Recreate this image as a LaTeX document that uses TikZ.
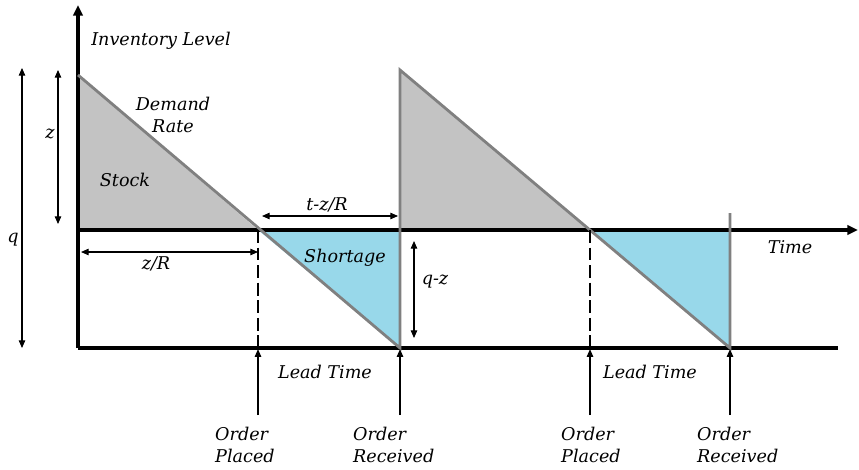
\documentclass[tikz,border=0pt]{standalone}
\usepackage{fontspec}
\setmainfont{DejaVu Serif}
\usetikzlibrary{arrows.meta, positioning}

\definecolor{stockgray}{RGB}{195,195,195}
\definecolor{shortblue}{RGB}{152,216,234}
\definecolor{sawgray}{RGB}{128,128,128}

\begin{document}
\begin{tikzpicture}[
    x=0.03cm, y=-0.03cm,
    font=\itshape\fontsize{15}{18.8}\selectfont,
    axis/.style={line width=2.6pt, draw=black},
    axisarrow/.style={axis, -{Triangle[length=9pt, width=8pt]}},
    saw/.style={line width=2.4pt, draw=sawgray},
    lead/.style={line width=0.9pt, dash pattern=on 11pt off 4pt},
    dim/.style={line width=0.9pt, {Triangle[length=6.5pt, width=5.5pt]}-{Triangle[length=6.5pt, width=5.5pt]}},
    uparrow/.style={line width=0.9pt, -{Triangle[length=6.5pt, width=5.5pt]}},
    lbl/.style={inner sep=0pt, anchor=base}
]
\useasboundingbox (0,0) rectangle (859,469);

% Key points of the inventory cycle
\coordinate (ybase) at (78,348);
\coordinate (ytip) at (78,5);
\coordinate (zero1) at (78,230);
\coordinate (xtip) at (858,230);
\coordinate (bend) at (838,348);
\coordinate (top1) at (78,75);
\coordinate (cross1) at (258,230);
\coordinate (low1) at (400,348);
\coordinate (zero2) at (400,230);
\coordinate (top2) at (400,70);
\coordinate (cross2) at (590,230);
\coordinate (low2) at (730,348);
\coordinate (zero3) at (730,230);
\coordinate (top3) at (730,213);
\coordinate (foot1) at (258,348);
\coordinate (foot2) at (590,348);

% Stock and shortage areas
\fill[stockgray] (top1) -- (cross1) -- (zero1) -- cycle;
\fill[stockgray] (top2) -- (cross2) -- (zero2) -- cycle;
\fill[shortblue] (cross1) -- (zero2) -- (low1) -- cycle;
\fill[shortblue] (cross2) -- (zero3) -- (low2) -- cycle;

% Axes
\draw[axisarrow] (ybase) -- (ytip);
\draw[axisarrow] (zero1) -- (xtip);
\draw[axis] (ybase) -- (bend);

% Saw-tooth demand line
\draw[saw] (top1) -- (low1) -- (top2) -- (low2) -- (top3);

% Lead time marks
\draw[lead] (cross1) -- (foot1);
\draw[lead] (cross2) -- (foot2);

% Dimensions
\coordinate (qtop) at (22,68);
\coordinate (qbot) at (22,348);
\coordinate (ztop) at (58,70);
\coordinate (zbot) at (58,224);
\coordinate (zrL) at (81,252);
\coordinate (zrR) at (258,252);
\coordinate (tzL) at (262,216);
\coordinate (tzR) at (398,216);
\coordinate (qzT) at (414,241);
\coordinate (qzB) at (414,338);
\draw[dim] (qtop) -- (qbot);
\draw[dim] (ztop) -- (zbot);
\draw[dim] (zrL) -- (zrR);
\draw[dim] (tzL) -- (tzR);
\draw[dim] (qzT) -- (qzB);

% Order events
\coordinate (op1) at (258,415);
\coordinate (or1) at (400,415);
\coordinate (op2) at (590,415);
\coordinate (or2) at (730,415);
\draw[uparrow] (op1) -- ([yshift=-1]foot1);
\draw[uparrow] (or1) -- ([yshift=-1]low1);
\draw[uparrow] (op2) -- ([yshift=-1]foot2);
\draw[uparrow] (or2) -- ([yshift=-1]low2);

% Labels
\node[lbl] (invlevel) at (161,45) {Inventory Level};
\node[inner sep=0pt, anchor=north, align=center] (demand) at (173,97) {Demand\\Rate};
\node[lbl] (stock) at (125,186) {Stock};
\node[lbl] (shortage) at (345,262) {Shortage};
\node[lbl] (timelbl) at (790,253) {Time};
\node[lbl] (qlbl) at (13,242) {q};
\node[lbl] (zlbl) at (50,138) {z};
\node[lbl] (zrlbl) at (156,269) {z/R};
\node[lbl] (tzlbl) at (327,210) {t-z/R};
\node[lbl] (qzlbl) at (435,284) {q-z};
\node[lbl] (lead1) at (325,378) {Lead Time};
\node[lbl] (lead2) at (650,378) {Lead Time};
\node[inner sep=0pt, anchor=north west, align=left] (placed1) at (215,427) {Order\\Placed};
\node[inner sep=0pt, anchor=north west, align=left] (received1) at (353,427) {Order\\Received};
\node[inner sep=0pt, anchor=north west, align=left] (placed2) at (561,427) {Order\\Placed};
\node[inner sep=0pt, anchor=north west, align=left] (received2) at (697,427) {Order\\Received};

\end{tikzpicture}
\end{document}
